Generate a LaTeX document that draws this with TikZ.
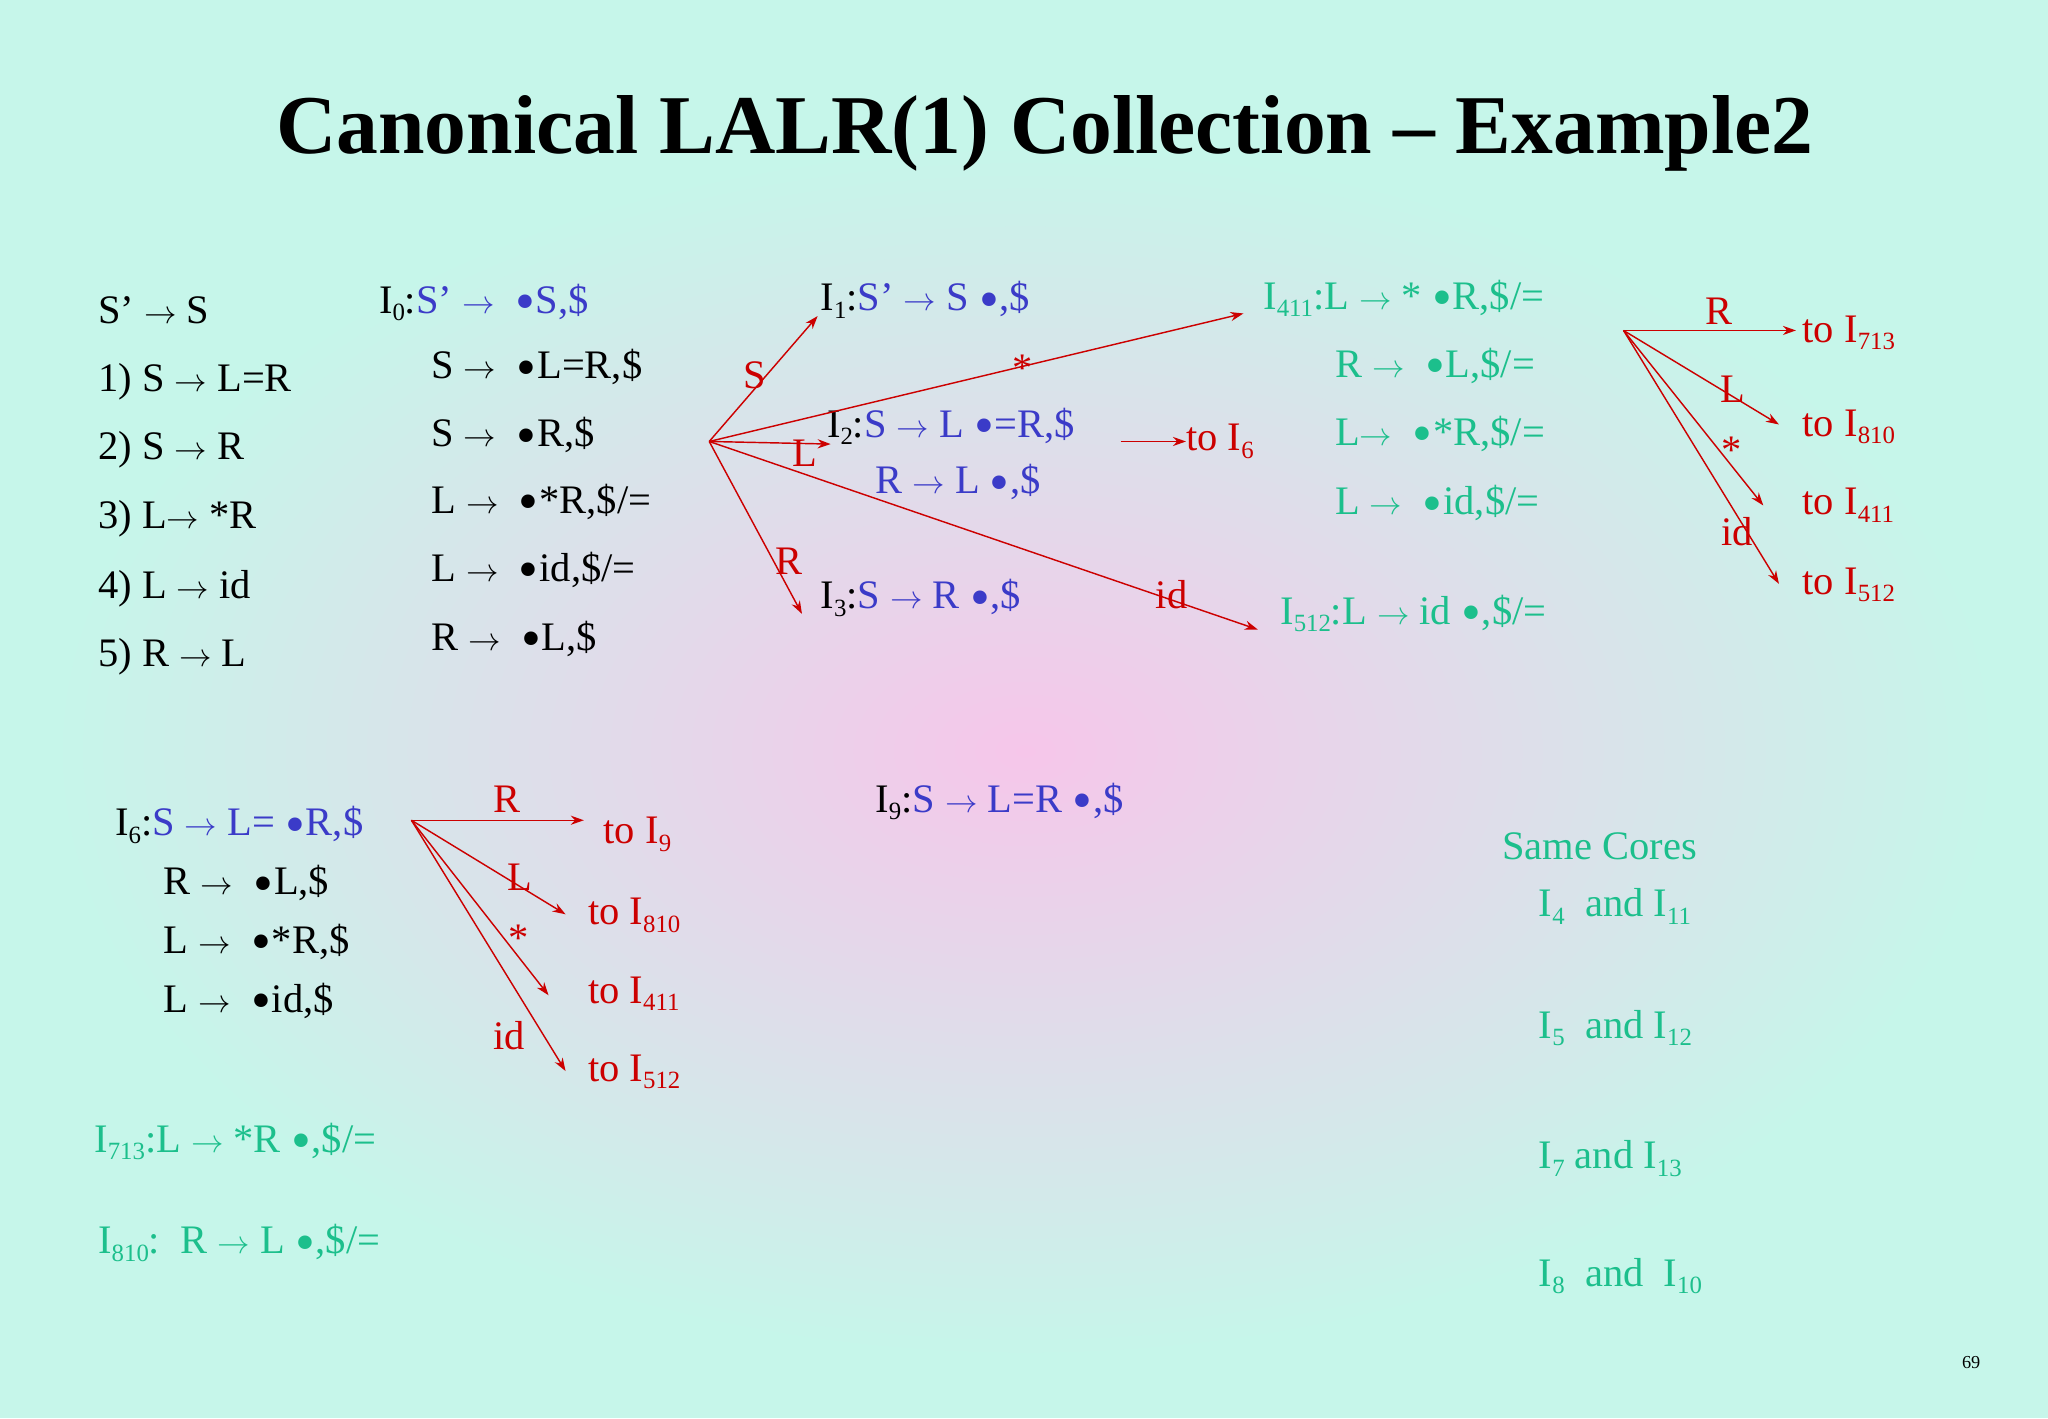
\documentclass[tikz,border=0pt]{standalone}
\usepackage{fontspec}
\setmainfont{Liberation Serif}
\usetikzlibrary{arrows.meta}
\definecolor{bl}{HTML}{3B3BC8}
\definecolor{rd}{HTML}{CC0000}
\definecolor{gr}{HTML}{1CBF8C}
\definecolor{mint}{HTML}{C6F6EA}
\definecolor{pinkc}{HTML}{F6C6EA}
\newcommand{\sbs}[1]{\raisebox{-0.4ex}{\fontsize{19}{19}\selectfont #1}}
\newcommand{\bul}{\hspace{0.25em}\raisebox{-0.4ex}{\scalebox{1.4}{\textbullet}}\hspace{0.02em}}
\newcommand{\ra}{\ $\rightarrow$\ }
\begin{document}
\begin{tikzpicture}[x=1pt,y=-1pt,
  t/.style={anchor=base west,inner sep=0pt,font=\fontsize{31}{36}\selectfont},
  ar/.style={draw=rd,line width=1.1pt,-{Stealth[length=10pt,width=7pt]}},
  lb/.style={inner sep=0pt,text=rd,font=\fontsize{31}{36}\selectfont}]
\fill[mint] (0,0) rectangle (1568,1086);
\shade[inner color=pinkc,outer color=mint] (40,110) rectangle (1530,1040);
\path[use as bounding box] (0,0) rectangle (1568,1086);
\node[font=\fontsize{64}{72}\selectfont\bfseries] (title) at (800,102) {Canonical LALR(1) Collection -- Example2};
% grammar
\node[t] (g0) at (75,248) {S’\ra S};
\node[t] (g1) at (75,300) {1) S\ra L=R};
\node[t] (g2) at (75,352) {2) S\ra R};
\node[t] (g3) at (75,405) {3) L$\rightarrow$\ *R};
\node[t] (g4) at (75,458) {4) L\ra id};
\node[t] (g5) at (75,510) {5) R\ra L};
% I0
\node[t] (i0) at (290,240) {I\sbs{0}:\textcolor{bl}{S’\ra\bul S,\$}};
\node[t] (i0a) at (330,290) {S\ra\bul L=R,\$};
\node[t] (i0b) at (330,342) {S\ra\bul R,\$};
\node[t] (i0c) at (330,393) {L\ra\bul *R,\$/=};
\node[t] (i0d) at (330,445) {L\ra\bul id,\$/=};
\node[t] (i0e) at (330,498) {R\ra\bul L,\$};
\coordinate (o0) at (543,338);
% I1 I2 I3
\node[t] (i1) at (628,238) {I\sbs{1}:\textcolor{bl}{S’\ra S\bul,\$}};
\node[t] (i2) at (633,335) {I\sbs{2}:\textcolor{bl}{S\ra L\bul=R,\$}};
\node[t,text=bl] (i2a) at (670,378) {R\ra L\bul,\$};
\node[t] (i3) at (628,466) {I\sbs{3}:\textcolor{bl}{S\ra R\bul,\$}};
% I411
\node[t,text=gr] (i4) at (967,237) {I\sbs{411}:L\ra *\bul R,\$/=};
\node[t,text=gr] (i4a) at (1022,289) {R\ra\bul L,\$/=};
\node[t,text=gr] (i4b) at (1022,341) {L$\rightarrow$\ \bul *R,\$/=};
\node[t,text=gr] (i4c) at (1022,394) {L\ra\bul id,\$/=};
\node[t,text=gr] (i5) at (980,478) {I\sbs{512}:L\ra id\bul,\$/=};
\coordinate (c0) at (626,242);
\coordinate (c1) at (952,240);
\coordinate (c2) at (636,340);
\coordinate (c3) at (614,470);
\coordinate (c4) at (963,482);
\draw[ar] (o0) -- (c0);
\draw[ar] (o0) -- (c1);
\draw[ar] (o0) -- (c2);
\draw[ar] (o0) -- (c3);
\draw[ar] (o0) -- (c4);
\node[lb] (l0) at (578,287) {S};
\node[lb] (l1) at (783,282) {*};
\node[lb] (l2) at (616,347) {L};
\node[lb] (l3) at (604,430) {R};
\node[lb] (l4) at (897,455) {id};
% I2 -> I6
\coordinate (s2) at (858,338);
\node[t,text=rd] (to6) at (908,345) {to I\sbs{6}};
\draw[ar] (s2) -- (to6.west|-s2);
% from I411
\coordinate (o4) at (1243,253);
\node[t,text=rd] (t1) at (1380,262) {to I\sbs{713}};
\node[t,text=rd] (t2) at (1380,334) {to I\sbs{810}};
\node[t,text=rd] (t3) at (1380,394) {to I\sbs{411}};
\node[t,text=rd] (t4) at (1380,455) {to I\sbs{512}};
\coordinate (d1) at (1375,253);
\coordinate (d2) at (1362,325);
\coordinate (d3) at (1350,387);
\coordinate (d4) at (1362,447);
\draw[ar] (o4) -- (d1);
\draw[ar] (o4) -- (d2);
\draw[ar] (o4) -- (d3);
\draw[ar] (o4) -- (d4);
\node[lb] (m1) at (1316,238) {R};
\node[lb] (m2) at (1327,298) {L};
\node[lb] (m3) at (1326,345) {*};
\node[lb] (m4) at (1330,407) {id};
% I6
\node[t] (i6) at (88,640) {I\sbs{6}:\textcolor{bl}{S\ra L=\bul R,\$}};
\node[t] (i6a) at (125,685) {R\ra\bul L,\$};
\node[t] (i6b) at (125,730) {L\ra\bul *R,\$};
\node[t] (i6c) at (125,775) {L\ra\bul id,\$};
\coordinate (o6) at (315,628);
\node[t,text=rd] (u1) at (462,646) {to I\sbs{9}};
\node[t,text=rd] (u2) at (450,708) {to I\sbs{810}};
\node[t,text=rd] (u3) at (450,768) {to I\sbs{411}};
\node[t,text=rd] (u4) at (450,828) {to I\sbs{512}};
\coordinate (e1) at (447,628);
\coordinate (e2) at (433,700);
\coordinate (e3) at (420,762);
\coordinate (e4) at (433,820);
\draw[ar] (o6) -- (e1);
\draw[ar] (o6) -- (e2);
\draw[ar] (o6) -- (e3);
\draw[ar] (o6) -- (e4);
\node[lb] (n1) at (388,612) {R};
\node[lb] (n2) at (398,672) {L};
\node[lb] (n3) at (397,718) {*};
\node[lb] (n4) at (390,793) {id};
% I9
\node[t] (i9) at (670,622) {I\sbs{9}:\textcolor{bl}{S\ra L=R\bul,\$}};
% I713 I810
\node[t,text=gr] (i7) at (72,882) {I\sbs{713}:L\ra *R\bul,\$/=};
\node[t,text=gr] (i8) at (75,960) {I\sbs{810}:\ \ R\ra L\bul,\$/=};
% same cores
\node[t,text=gr] (sc) at (1150,658) {Same Cores};
\node[t,text=gr] (s1) at (1178,702) {I\sbs{4}\ \ and I\sbs{11}};
\node[t,text=gr] (s2t) at (1178,795) {I\sbs{5}\ \ and I\sbs{12}};
\node[t,text=gr] (s3) at (1178,895) {I\sbs{7} and I\sbs{13}};
\node[t,text=gr] (s4) at (1178,985) {I\sbs{8}\ \ and\ \ I\sbs{10}};
\node[anchor=base west,inner sep=0pt,font=\fontsize{14}{16}\selectfont] (pg) at (1502,1048) {69};
\end{tikzpicture}
\end{document}
